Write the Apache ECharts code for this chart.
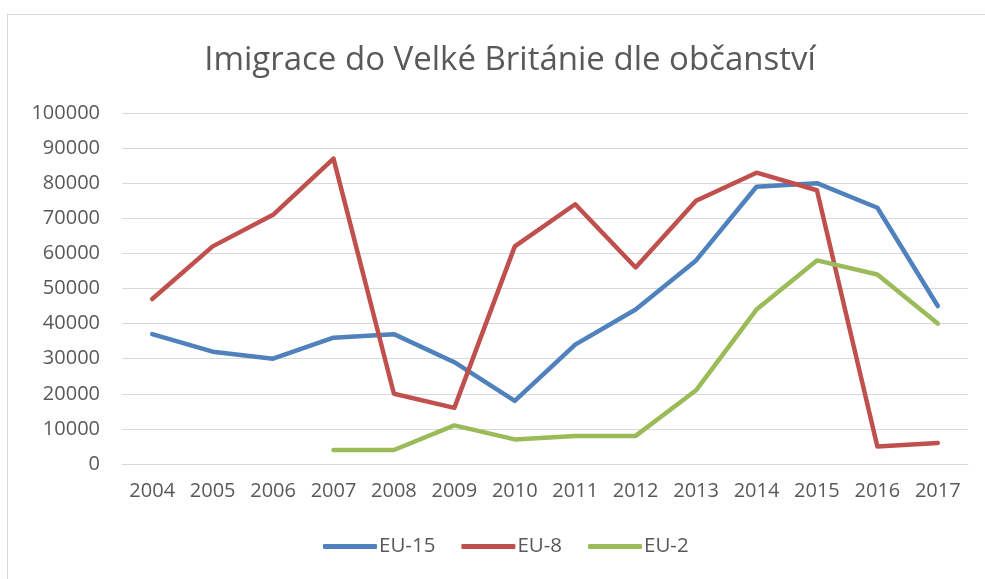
<!DOCTYPE html>
<html>
<head>
<meta charset="utf-8">
<script src="https://cdn.jsdelivr.net/npm/echarts@6/dist/echarts.min.js"></script>
<style>
  html, body { margin: 0; padding: 0; background: #fff; }
  #frame {
    position: absolute; left: 7px; top: 14px; width: 990px; height: 570px;
    border: 1px solid #d9d9d9; box-sizing: border-box;
  }
  #chart { position: absolute; left: 0; top: 0; width: 985px; height: 579px; }
</style>
</head>
<body>
<div id="frame"></div>
<div id="chart"></div>
<script>
const years = ['2004', '2005', '2006', '2007', '2008', '2009', '2010', '2011', '2012', '2013', '2014', '2015', '2016', '2017']
const eu15 = [37000, 32000, 30000, 36000, 37000, 29000, 18000, 34000, 44000, 58000, 79000, 80000, 73000, 45000]
const eu8 = [47000, 62000, 71000, 87000, 20000, 16000, 62000, 74000, 56000, 75000, 83000, 78000, 5000, 6000]
// EU-2 starts in 2007
const eu2 = [null, null, null, 4000, 4000, 11000, 7000, 8000, 8000, 21000, 44000, 58000, 54000, 40000]

const FONT = '"Open Sans", sans-serif'
const TEXT = '#595959'

const chart = echarts.init(document.getElementById('chart'))

function line(name, data, color) {
  return {
    name,
    type: 'line',
    data,
    symbol: 'none',
    lineStyle: { color, width: 4.5, cap: 'round', join: 'round' },
    itemStyle: { color },
  }
}

chart.setOption({
  animation: false,
  backgroundColor: 'transparent',
  title: {
    text: 'Imigrace do Velké Británie dle občanství',
    left: 505,
    textAlign: 'center',
    top: 39,
    textStyle: { fontFamily: FONT, fontSize: 33, fontWeight: 'normal', color: TEXT },
  },
  grid: { left: 122, right: 17, top: 113, bottom: 115 },
  legend: {
    bottom: 17,
    left: 318,
    icon: 'roundRect',
    itemWidth: 54,
    itemHeight: 5,
    itemGap: 26,
    textStyle: { fontFamily: FONT, fontSize: 20.5, color: TEXT, padding: [0, 0, 0, -3] },
    data: ['EU-15', 'EU-8', 'EU-2'],
  },
  xAxis: {
    type: 'category',
    data: years,
    boundaryGap: true,
    axisLine: { lineStyle: { color: '#d9d9d9', width: 1 } },
    axisTick: { show: false },
    axisLabel: { fontFamily: FONT, fontSize: 20, color: TEXT, margin: 17 },
  },
  yAxis: {
    type: 'value',
    min: 0,
    max: 100000,
    interval: 10000,
    axisLine: { show: false },
    axisTick: { show: false },
    axisLabel: { fontFamily: FONT, fontSize: 20, color: TEXT, margin: 22, formatter: (v) => String(v) },
    splitLine: { lineStyle: { color: '#d9d9d9', width: 1 } },
  },
  series: [
    line('EU-15', eu15, '#4f81bd'),
    line('EU-8', eu8, '#c0504d'),
    line('EU-2', eu2, '#9bbb59'),
  ],
})
</script>
</body>
</html>
